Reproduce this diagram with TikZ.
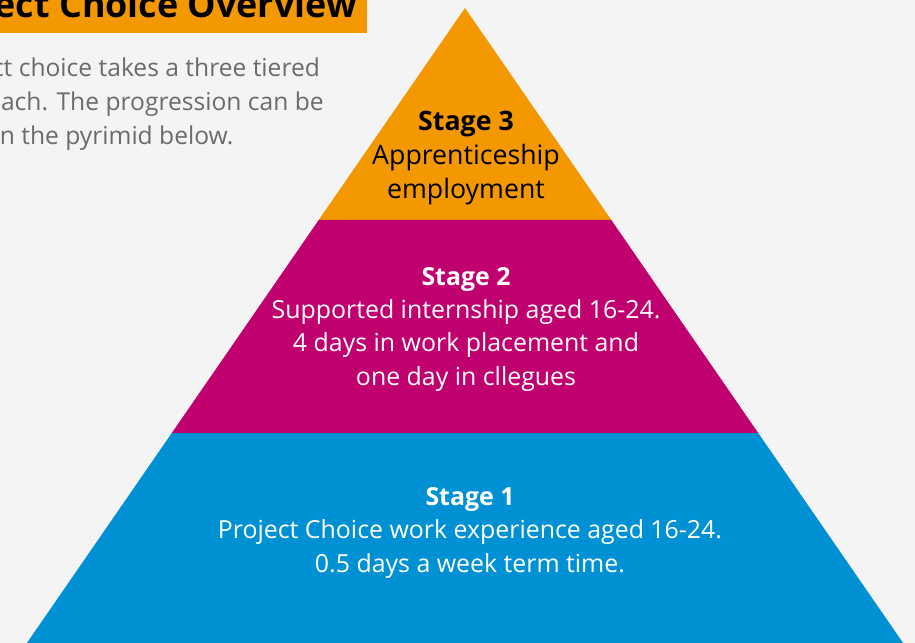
\documentclass[tikz,border=0pt]{standalone}
\usepackage{fontspec}
\setmainfont{Open Sans}
\usetikzlibrary{positioning}
\definecolor{pbg}{HTML}{F4F4F4}
\definecolor{porange}{HTML}{F39800}
\definecolor{pmagenta}{HTML}{C1006F}
\definecolor{pblue}{HTML}{0091D5}
\definecolor{pgrey}{HTML}{6B6B6B}

\begin{document}
\begin{tikzpicture}[
  x=0.025cm, y=-0.025cm,
  ttl/.style={inner sep=0pt,font=\fontsize{25.5}{28}\selectfont\bfseries,text=black},
  para/.style={inner sep=0pt,align=left,font=\fontsize{17.5}{24.5}\selectfont,text=pgrey},
  stg/.style={inner sep=0pt,align=center,anchor=base,font=\fontsize{17.7}{23.5}\selectfont},
  top/.style={stg,font=\fontsize{19}{24.5}\selectfont,text=black}]

% ---------------- page ----------------
\clip (0,0) rectangle (915,643);
\fill[pbg] (0,0) rectangle (915,643);

% ---------------- heading and intro ----------------
\fill[porange] (0,0) rectangle (367,33);
\node[ttl,anchor=base east] (title) at (357,18) {Project Choice Overview};
% multi-line nodes sit on the baseline of their last line
\node[para,anchor=base east] (intro) at (324,145)
  {Project choice takes a three tiered\\approach. The progression can be\\seen in the pyrimid below.};

% ---------------- pyramid ----------------
\coordinate (apex) at (465,8);
\coordinate (l3) at (318.7,220);  \coordinate (r3) at (611.3,220);
\coordinate (l2) at (171.8,433);  \coordinate (r2) at (758.2,433);
\coordinate (l1) at (26.9,643);   \coordinate (r1) at (903.1,643);
\fill[porange]  (apex) -- (r3) -- (l3) -- cycle;
\fill[pmagenta] (l3) -- (r3) -- (r2) -- (l2) -- cycle;
\fill[pblue]    (l2) -- (r2) -- (r1) -- (l1) -- cycle;

\node[top] (s3) at (466,199)
  {\textbf{Stage 3}\\Apprenticeship\\employment};
\node[stg,text=white] (s2) at (466,385)
  {\textbf{Stage 2}\\Supported internship aged 16-24.\\4 days in work placement and\\one day in cllegues};
\node[stg,text=white] (s1) at (470,572)
  {\textbf{Stage 1}\\Project Choice work experience aged 16-24.\\0.5 days a week term time.};
\end{tikzpicture}
\end{document}
